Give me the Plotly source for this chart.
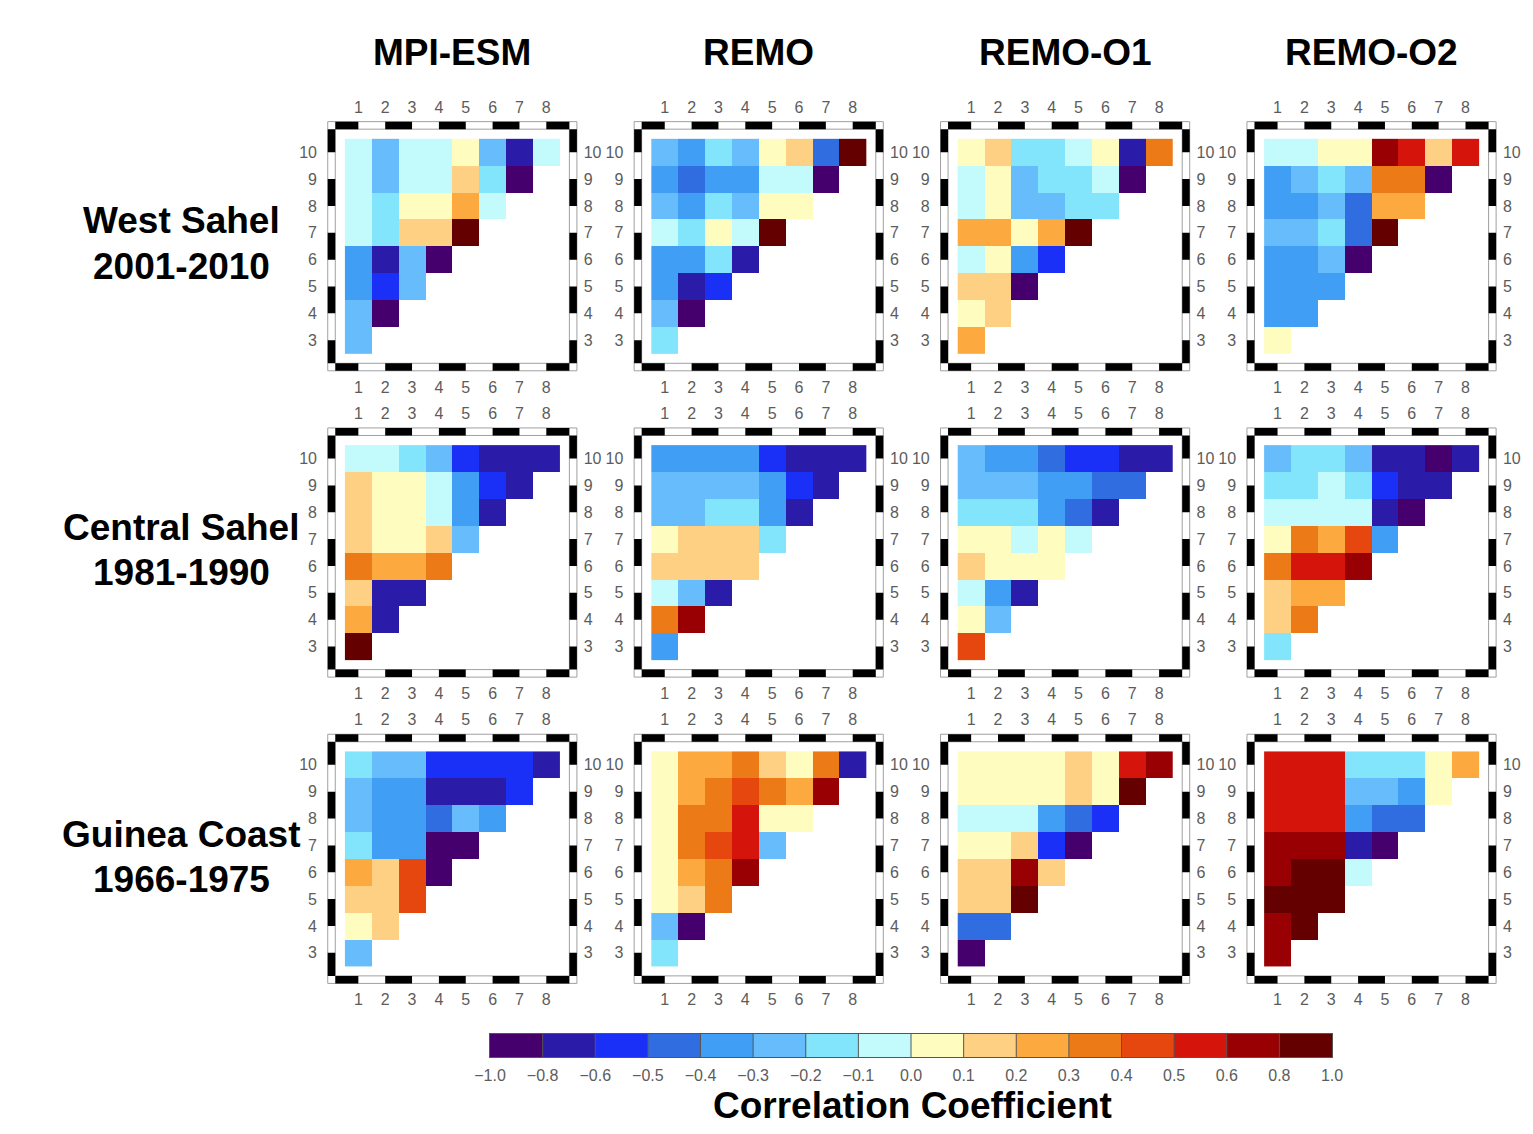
import plotly.graph_objects as go

# ---------------- data ----------------
models = ["MPI-ESM", "REMO", "REMO-O1", "REMO-O2"]
regions = ["West Sahel", "Central Sahel", "Guinea Coast"]
periods = ["2001-2010", "1981-1990", "1966-1975"]
x_ticks = [1, 2, 3, 4, 5, 6, 7, 8]
y_ticks = [3, 4, 5, 6, 7, 8, 9, 10]
bounds = [-1.0, -0.8, -0.6, -0.5, -0.4, -0.3, -0.2, -0.1, 0.0,
          0.1, 0.2, 0.3, 0.4, 0.5, 0.6, 0.8, 1.0]
bound_labels = ["\u22121.0", "\u22120.8", "\u22120.6", "\u22120.5", "\u22120.4",
                "\u22120.3", "\u22120.2", "\u22120.1", "0.0", "0.1", "0.2", "0.3",
                "0.4", "0.5", "0.6", "0.8", "1.0"]
colors = ["#46006e", "#2a1ca8", "#1a30f6", "#2f6de0", "#409ff5", "#67bdfb",
          "#82e5fb", "#c3fbfc", "#fefcbf", "#fdd083", "#fcaa3f", "#ec7a17",
          "#e5470e", "#d5150b", "#990004", "#650000"]

# rows listed for y = 10, 9, ..., 3 ; row y holds values at x = 1 .. y-2
ws_mpi = [[-0.05, -0.25, -0.05, -0.05, 0.05, -0.25, -0.7, -0.05],
          [-0.05, -0.25, -0.05, -0.05, 0.15, -0.15, -0.9],
          [-0.05, -0.15, 0.05, 0.05, 0.25, -0.05],
          [-0.05, -0.15, 0.15, 0.15, 0.9],
          [-0.35, -0.7, -0.25, -0.9],
          [-0.35, -0.55, -0.25],
          [-0.25, -0.9],
          [-0.25]]
ws_remo = [[-0.25, -0.35, -0.15, -0.25, 0.05, 0.15, -0.45, 0.9],
           [-0.35, -0.45, -0.35, -0.35, -0.05, -0.05, -0.9],
           [-0.25, -0.35, -0.15, -0.25, 0.05, 0.05],
           [-0.05, -0.15, 0.05, -0.05, 0.9],
           [-0.35, -0.35, -0.15, -0.7],
           [-0.35, -0.7, -0.55],
           [-0.25, -0.9],
           [-0.15]]
ws_o1 = [[0.05, 0.15, -0.15, -0.15, -0.05, 0.05, -0.7, 0.35],
         [-0.05, 0.05, -0.25, -0.15, -0.15, -0.05, -0.9],
         [-0.05, 0.05, -0.25, -0.25, -0.15, -0.15],
         [0.25, 0.25, 0.05, 0.25, 0.9],
         [-0.05, 0.05, -0.35, -0.55],
         [0.15, 0.15, -0.9],
         [0.05, 0.15],
         [0.25]]
ws_o2 = [[-0.05, -0.05, 0.05, 0.05, 0.7, 0.55, 0.15, 0.55],
         [-0.35, -0.25, -0.15, -0.25, 0.35, 0.35, -0.9],
         [-0.35, -0.35, -0.25, -0.45, 0.25, 0.25],
         [-0.25, -0.25, -0.15, -0.45, 0.9],
         [-0.35, -0.35, -0.25, -0.9],
         [-0.35, -0.35, -0.35],
         [-0.35, -0.35],
         [0.05]]
cs_mpi = [[-0.05, -0.05, -0.15, -0.25, -0.55, -0.7, -0.7, -0.7],
          [0.15, 0.05, 0.05, -0.05, -0.35, -0.55, -0.7],
          [0.15, 0.05, 0.05, -0.05, -0.35, -0.7],
          [0.15, 0.05, 0.05, 0.15, -0.25],
          [0.35, 0.25, 0.25, 0.35],
          [0.15, -0.7, -0.7],
          [0.25, -0.7],
          [0.9]]
cs_remo = [[-0.35, -0.35, -0.35, -0.35, -0.55, -0.7, -0.7, -0.7],
           [-0.25, -0.25, -0.25, -0.25, -0.35, -0.55, -0.7],
           [-0.25, -0.25, -0.15, -0.15, -0.35, -0.7],
           [0.05, 0.15, 0.15, 0.15, -0.15],
           [0.15, 0.15, 0.15, 0.15],
           [-0.05, -0.25, -0.7],
           [0.35, 0.7],
           [-0.35]]
cs_o1 = [[-0.25, -0.35, -0.35, -0.45, -0.55, -0.55, -0.7, -0.7],
         [-0.25, -0.25, -0.25, -0.35, -0.35, -0.45, -0.45],
         [-0.15, -0.15, -0.15, -0.35, -0.45, -0.7],
         [0.05, 0.05, -0.05, 0.05, -0.05],
         [0.15, 0.05, 0.05, 0.05],
         [-0.05, -0.35, -0.7],
         [0.05, -0.25],
         [0.45]]
cs_o2 = [[-0.25, -0.15, -0.15, -0.25, -0.7, -0.7, -0.9, -0.7],
         [-0.15, -0.15, -0.05, -0.15, -0.55, -0.7, -0.7],
         [-0.05, -0.05, -0.05, -0.05, -0.7, -0.9],
         [0.05, 0.35, 0.25, 0.45, -0.35],
         [0.35, 0.55, 0.55, 0.7],
         [0.15, 0.25, 0.25],
         [0.15, 0.35],
         [-0.15]]
gc_mpi = [[-0.15, -0.25, -0.25, -0.55, -0.55, -0.55, -0.55, -0.7],
          [-0.25, -0.35, -0.35, -0.7, -0.7, -0.7, -0.55],
          [-0.25, -0.35, -0.35, -0.45, -0.25, -0.35],
          [-0.15, -0.35, -0.35, -0.9, -0.9],
          [0.25, 0.15, 0.45, -0.9],
          [0.15, 0.15, 0.45],
          [0.05, 0.15],
          [-0.25]]
gc_remo = [[0.05, 0.25, 0.25, 0.35, 0.15, 0.05, 0.35, -0.7],
           [0.05, 0.25, 0.35, 0.45, 0.35, 0.25, 0.7],
           [0.05, 0.35, 0.35, 0.55, 0.05, 0.05],
           [0.05, 0.35, 0.45, 0.55, -0.25],
           [0.05, 0.25, 0.35, 0.7],
           [0.05, 0.15, 0.35],
           [-0.25, -0.9],
           [-0.15]]
gc_o1 = [[0.05, 0.05, 0.05, 0.05, 0.15, 0.05, 0.55, 0.7],
         [0.05, 0.05, 0.05, 0.05, 0.15, 0.05, 0.9],
         [-0.05, -0.05, -0.05, -0.35, -0.45, -0.55],
         [0.05, 0.05, 0.15, -0.55, -0.9],
         [0.15, 0.15, 0.7, 0.15],
         [0.15, 0.15, 0.9],
         [-0.45, -0.45],
         [-0.9]]
gc_o2 = [[0.55, 0.55, 0.55, -0.15, -0.15, -0.15, 0.05, 0.25],
         [0.55, 0.55, 0.55, -0.25, -0.25, -0.35, 0.05],
         [0.55, 0.55, 0.55, -0.35, -0.45, -0.45],
         [0.7, 0.7, 0.7, -0.7, -0.9],
         [0.7, 0.9, 0.9, -0.05],
         [0.9, 0.9, 0.9],
         [0.7, 0.9],
         [0.7]]

panels = [[ws_mpi, ws_remo, ws_o1, ws_o2],
          [cs_mpi, cs_remo, cs_o1, cs_o2],
          [gc_mpi, gc_remo, gc_o1, gc_o2]]

# ---------------- layout geometry ----------------
# figure is sized to fit inside the page (body margin of 8 px) so nothing overflows
OX, OY = 8, 8
W, H = 1517, 1118
U = 26.85                 # px per data unit
X0 = [331.5 + 306.4 * c for c in range(4)]   # page pixel of x=0
Y11 = [125.4 + 306.3 * r for r in range(3)]  # page pixel of y=11
PAD = 0.2
HB = 0.14                 # half width of checkered frame band


def fx(px):
    return (px - OX) / W


def fy(py):
    return 1 - (py - OY) / H


# discrete colorscale on the nonuniform bounds
cscale = []
for i, c in enumerate(colors):
    cscale.append([(bounds[i] + 1) / 2, c])
    cscale.append([(bounds[i + 1] + 1) / 2, c])

tickfont = dict(size=16, color="#5c5c5c", family="Liberation Sans, Arial")


def axname(kind, n):
    return kind if n == 1 else f"{kind}{n}"


def laykey(kind, n):
    return f"{kind}axis" if n == 1 else f"{kind}axis{n}"


fig = go.Figure()
layout = {}
shapes = []
annotations = []

for r in range(3):
    for c in range(4):
        k = r * 4 + c
        nb = 2 * k + 1
        nt = 2 * k + 2
        rows = panels[r][c]
        z = [[None] * len(x_ticks) for _ in y_ticks]
        for yi, vals in zip(range(10, 2, -1), rows):
            for xi, v in enumerate(vals):
                z[yi - 3][xi] = v
        fig.add_trace(go.Heatmap(
            x=x_ticks, y=y_ticks, z=z, colorscale=cscale, zmin=-1, zmax=1,
            showscale=False, xaxis=axname("x", nb), yaxis=axname("y", nb),
            hoverongaps=False))
        fig.add_trace(go.Scatter(
            x=[None], y=[None], xaxis=axname("x", nt), yaxis=axname("y", nt),
            showlegend=False, hoverinfo="skip"))

        x0 = X0[c]
        y11 = Y11[r]
        dx = [fx(x0 - PAD * U), fx(x0 + (9 + PAD) * U)]
        dy = [fy(y11 + (9 + PAD) * U), fy(y11 - PAD * U)]
        base = dict(showgrid=False, zeroline=False, showline=False,
                    ticks="outside", tickcolor="rgba(0,0,0,0)",
                    tickfont=tickfont, fixedrange=True, automargin=False)
        layout[laykey("x", nb)] = dict(base, domain=dx, range=[-PAD, 9 + PAD],
                                       tickvals=x_ticks, ticklen=0,
                                       anchor=axname("y", nb), side="bottom")
        layout[laykey("y", nb)] = dict(base, domain=dy, range=[2 - PAD, 11 + PAD],
                                       tickvals=y_ticks, ticklen=5,
                                       anchor=axname("x", nb), side="left")
        layout[laykey("x", nt)] = dict(base, range=[-PAD, 9 + PAD],
                                       tickvals=x_ticks, ticklen=0,
                                       overlaying=axname("x", nb),
                                       anchor=axname("y", nb), side="top")
        layout[laykey("y", nt)] = dict(base, range=[2 - PAD, 11 + PAD],
                                       tickvals=y_ticks, ticklen=1,
                                       overlaying=axname("y", nb),
                                       anchor=axname("x", nb), side="right")

        xr, yr = axname("x", nb), axname("y", nb)
        # frame outlines
        for s in (HB, -HB):
            shapes.append(dict(type="rect", xref=xr, yref=yr,
                               x0=-s, x1=9 + s, y0=2 - s, y1=11 + s,
                               line=dict(color="#a0a0a0", width=1),
                               fillcolor="rgba(0,0,0,0)", layer="above"))
        # black checkered segments
        parts = []
        for a in range(0, 9, 2):
            xa = a - HB if a == 0 else a
            xb = a + 1 + HB if a == 8 else a + 1
            for yc in (11, 2):
                parts.append(f"M{xa},{yc - HB} L{xb},{yc - HB} L{xb},{yc + HB} L{xa},{yc + HB} Z")
        for b in range(2, 11, 2):
            ya = b - HB if b == 2 else b
            yb = b + 1 + HB if b == 10 else b + 1
            for xc in (0, 9):
                parts.append(f"M{xc - HB},{ya} L{xc + HB},{ya} L{xc + HB},{yb} L{xc - HB},{yb} Z")
        shapes.append(dict(type="path", xref=xr, yref=yr, path=" ".join(parts),
                           fillcolor="black", line=dict(width=0), layer="above"))

# ---------------- colour bar ----------------
ncb = 25
centers = [(bounds[i] + bounds[i + 1]) / 2 for i in range(len(colors))]
pos = list(range(len(colors)))
fig.add_trace(go.Heatmap(x=pos, y=[0], z=[centers], colorscale=cscale,
                         zmin=-1, zmax=1, showscale=False,
                         xaxis=axname("x", ncb), yaxis=axname("y", ncb)))
edges = [p - 0.5 for p in range(len(bounds))]
lx, ly = [], []
for e in edges[1:-1]:
    lx += [e, e, None]
    ly += [-0.5, 0.5, None]
fig.add_trace(go.Scatter(x=lx, y=ly, mode="lines",
                         line=dict(color="#555555", width=1),
                         xaxis=axname("x", ncb), yaxis=axname("y", ncb),
                         showlegend=False, hoverinfo="skip"))
layout[laykey("x", ncb)] = dict(domain=[fx(490), fx(1332)], range=[-0.5, 15.5],
                                tickvals=edges, ticktext=bound_labels,
                                ticks="outside", ticklen=4,
                                tickcolor="rgba(0,0,0,0)", tickfont=tickfont,
                                showgrid=False, zeroline=False, showline=True,
                                linecolor="#555555", linewidth=1, mirror=True,
                                anchor=axname("y", ncb), fixedrange=True,
                                automargin=False)
layout[laykey("y", ncb)] = dict(domain=[fy(1057), fy(1034)],
                                range=[-0.5, 0.5], showticklabels=False,
                                ticks="", showgrid=False, zeroline=False,
                                showline=True, linecolor="#555555", linewidth=1,
                                mirror=True, anchor=axname("x", ncb),
                                fixedrange=True, automargin=False)

# ---------------- titles ----------------
tfont = dict(size=37, color="black", family="Liberation Sans, Arial")
for c, m in enumerate(models):
    annotations.append(dict(text=f"<b>{m}</b>", x=fx(X0[c] + 4.5 * U),
                            y=fy(52), xref="paper", yref="paper",
                            showarrow=False, font=tfont,
                            xanchor="center", yanchor="middle"))
for r in range(3):
    annotations.append(dict(text=f"<b>{regions[r]}</b>", x=fx(181),
                            y=fy(221 + 306.5 * r), xref="paper",
                            yref="paper", showarrow=False, font=tfont,
                            xanchor="center", yanchor="middle"))
    annotations.append(dict(text=f"<b>{periods[r]}</b>", x=fx(181),
                            y=fy(266 + 306.5 * r), xref="paper",
                            yref="paper", showarrow=False, font=tfont,
                            xanchor="center", yanchor="middle"))
annotations.append(dict(text="<b>Correlation Coefficient</b>", x=fx(912),
                        y=fy(1105), xref="paper", yref="paper",
                        showarrow=False, font=tfont,
                        xanchor="center", yanchor="middle"))

fig.update_layout(width=W, height=H,
                  margin=dict(l=0, r=0, t=0, b=0, pad=0, autoexpand=False),
                  autosize=False,
                  paper_bgcolor="white", plot_bgcolor="white",
                  showlegend=False, shapes=shapes, annotations=annotations,
                  **layout)
fig.write_html("out.html")
